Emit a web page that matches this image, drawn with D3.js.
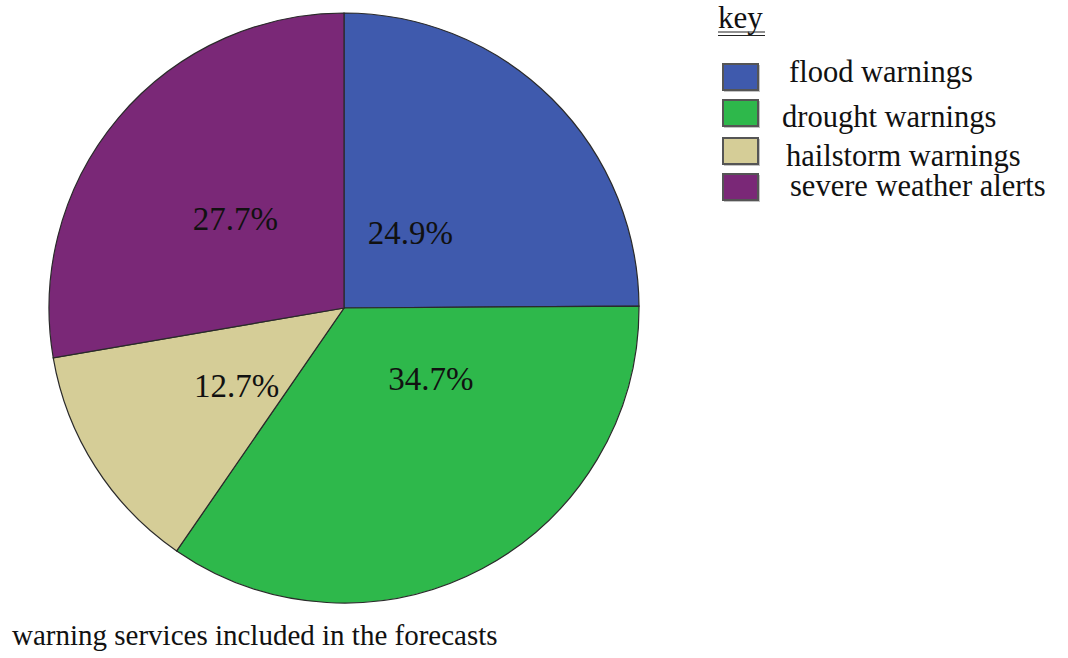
<!DOCTYPE html>
<html>
<head>
<meta charset="utf-8">
<script src="https://cdn.jsdelivr.net/npm/d3@7"></script>
<style>
  html, body { margin: 0; padding: 0; background: #fff; }
  svg { display: block; }
  svg text { font-family: "Liberation Serif", serif; }
</style>
</head>
<body>
<svg id="chart" width="1068" height="658"></svg>
<script>
// Share of warning services included in the forecasts (percent)
const categories = ["flood warnings", "drought warnings", "hailstorm warnings", "severe weather alerts"];
const values = [24.9, 34.7, 12.7, 27.7];
const colors = ["#3f5aad", "#2eb84b", "#d5cd97", "#7a2877"];
const titleText = "warning services included in the forecasts";
const keyTitle = "key";

const FONT = "'Liberation Serif', serif";

const svg = d3.select("#chart");
const cx = 344, cy = 308, radius = 295;

const data = categories.map((c, i) => ({ name: c, value: values[i], color: colors[i] }));

const pie = d3.pie().value(d => d.value).sort(null);
const arc = d3.arc().innerRadius(0).outerRadius(radius);
const labelArc = d3.arc().innerRadius(radius * 0.42).outerRadius(radius * 0.42);

const g = svg.append("g").attr("transform", `translate(${cx},${cy})`);
const arcs = pie(data);

g.selectAll("path.slice")
  .data(arcs)
  .join("path")
  .attr("class", "slice")
  .attr("d", arc)
  .attr("fill", d => d.data.color)
  .attr("stroke", "#2a2a2a")
  .attr("stroke-width", 1.2);

// Percentage labels inside each slice, nudged from the slice centroid
const labelOffsets = [[-21, 13], [29, -38], [-3, 11], [-14, -9]];
g.selectAll("text.pct")
  .data(arcs)
  .join("text")
  .attr("class", "pct")
  .attr("x", (d, i) => labelArc.centroid(d)[0] + labelOffsets[i][0])
  .attr("y", (d, i) => labelArc.centroid(d)[1] + labelOffsets[i][1])
  .attr("text-anchor", "middle")
  .attr("dominant-baseline", "central")
  .style("font-family", FONT)
  .attr("font-size", 33)
  .attr("fill", "#111")
  .text(d => d.data.value.toFixed(1) + "%");

// Key
const key = svg.append("g");
key.append("text")
  .attr("x", 718).attr("y", 28)
  .style("font-family", FONT)
  .attr("font-size", 31)
  .attr("fill", "#111")
  .text(keyTitle);
key.append("line").attr("x1", 718).attr("x2", 765).attr("y1", 32).attr("y2", 32)
  .attr("stroke", "#222").attr("stroke-width", 1.2);
key.append("line").attr("x1", 718).attr("x2", 765).attr("y1", 35.5).attr("y2", 35.5)
  .attr("stroke", "#222").attr("stroke-width", 1.2);

const keyRowY = [64, 100, 138, 174];
const keyTextX = [789, 782, 786, 790];
const keyBaseY = [82, 127, 166, 196];
const rows = key.selectAll("g.row")
  .data(data)
  .join("g")
  .attr("class", "row");

rows.append("rect")
  .attr("x", 724).attr("y", (d, i) => keyRowY[i] + 1)
  .attr("width", 36).attr("height", 27)
  .attr("fill", "#888").attr("opacity", 0.5);
rows.append("rect")
  .attr("x", 723).attr("y", (d, i) => keyRowY[i])
  .attr("width", 35).attr("height", 26)
  .attr("fill", d => d.color)
  .attr("stroke", "#555")
  .attr("stroke-width", 2);

rows.append("text")
  .attr("x", (d, i) => keyTextX[i])
  .attr("y", (d, i) => keyBaseY[i])
  .style("font-family", FONT)
  .attr("font-size", 30.5)
  .attr("fill", "#111")
  .text(d => d.name);

// Caption
svg.append("text")
  .attr("x", 12).attr("y", 645)
  .style("font-family", FONT)
  .attr("font-size", 29)
  .attr("fill", "#111")
  .text(titleText);
</script>
</body>
</html>
